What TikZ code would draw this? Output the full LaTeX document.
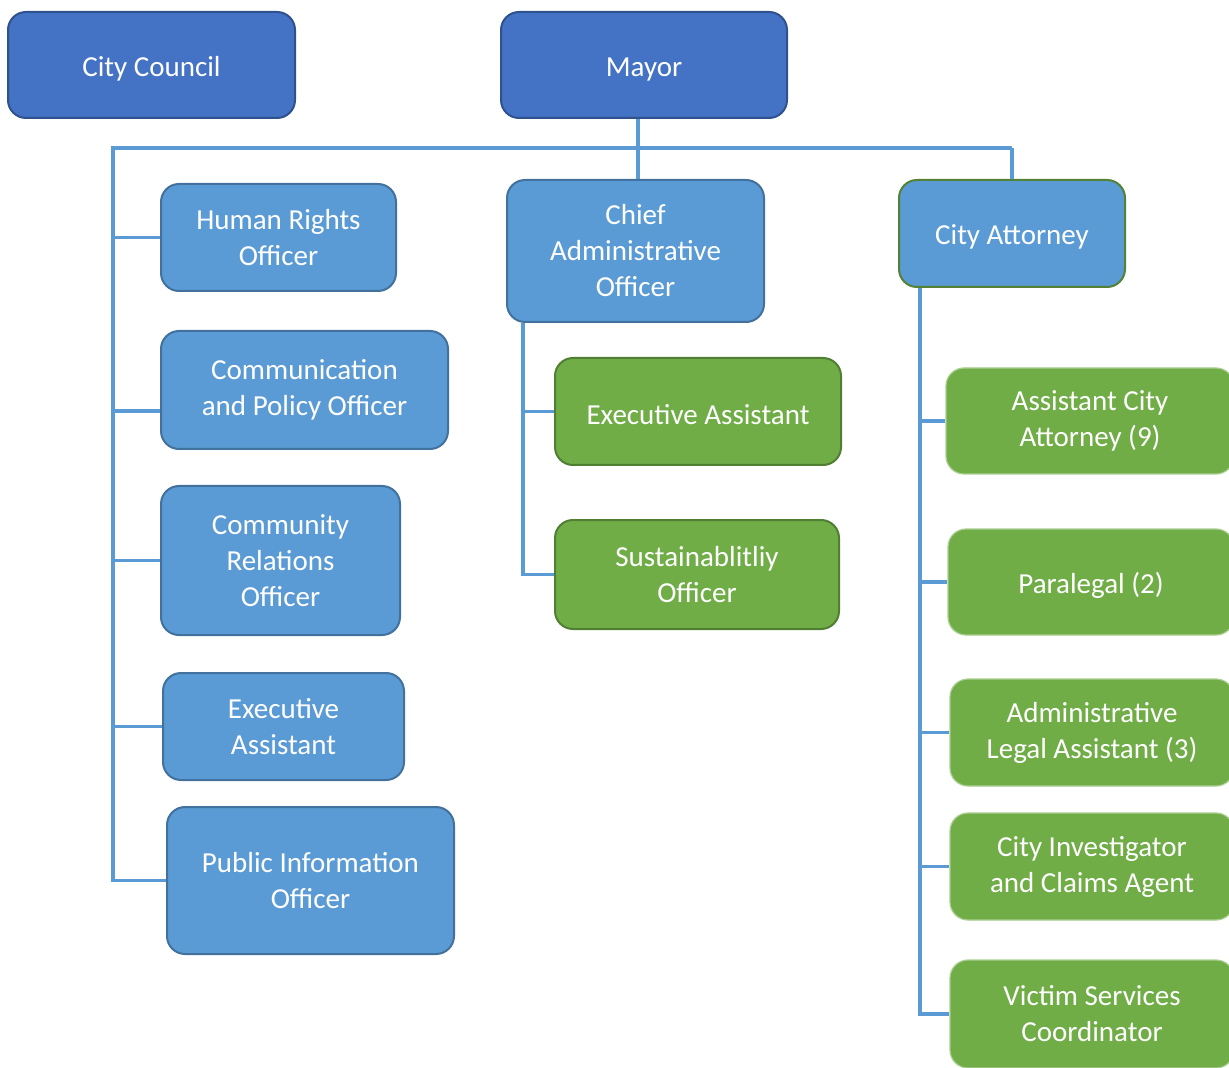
\documentclass[tikz,border=0pt]{standalone}
\usepackage{fontspec}
\setmainfont{Carlito}
\usetikzlibrary{calc}
\definecolor{dkblue}{HTML}{4472C4}
\definecolor{dkline}{HTML}{2F528F}
\definecolor{ltblue}{HTML}{5B9BD5}
\definecolor{ltline}{HTML}{41719C}
\definecolor{grn}{HTML}{70AD47}
\definecolor{grnline}{HTML}{507E32}
\definecolor{calline}{HTML}{548235}
\begin{document}
\begin{tikzpicture}[x=.5pt,y=-.5pt,font=\fontsize{14.5}{18}\selectfont,
  box/.style={rounded corners=9pt,align=center,text=white,line width=1pt,inner sep=2pt,
    execute at begin node={\rule{0pt}{13.5pt}}},
  top/.style={box,fill=dkblue,draw=dkline},
  staff/.style={box,fill=ltblue,draw=ltline},
  unit/.style={box,fill=grn,draw=grnline},
  legal/.style={box,fill=grn,draw=grn!60!white,line width=.6pt},
  link/.style={draw=ltblue,line width=1.7pt}]
\useasboundingbox (0,0) rectangle (1229,1068);
\clip (0,0) rectangle (1229,1068);

\node[top, minimum width=143.5pt, minimum height=53pt] (cc) at (151.5,65) {City Council};
\node[top, minimum width=143pt, minimum height=53pt] (mayor) at (644,65) {Mayor};

\node[staff, minimum width=117.5pt, minimum height=53.5pt] (hr) at (278.5,237.5) {Human Rights\\Officer};
\node[staff, minimum width=143.5pt, minimum height=59pt] (comm) at (304.5,390) {Communication\\and Policy Officer};
\node[staff, minimum width=119.5pt, minimum height=74.5pt] (rel) at (280.5,560.5) {Community\\Relations\\Officer};
\node[staff, minimum width=120.5pt, minimum height=53.5pt] (exl) at (283.5,726.5) {Executive\\Assistant};
\node[staff, minimum width=143.5pt, minimum height=73.5pt] (pio) at (310.5,880.5) {Public Information\\Officer};

\node[staff, minimum width=128.5pt, minimum height=71pt] (cao) at (635.5,251) {Chief\\Administrative\\Officer};
\node[unit, minimum width=143pt, minimum height=53.5pt] (exg) at (698,411.5) {Executive Assistant};
\node[unit, minimum width=142pt, minimum height=54.5pt] (sus) at (697,574.5) {Sustainablitliy\\Officer};

\node[staff, draw=calline, minimum width=113pt, minimum height=53.5pt] (ca) at (1012,233.5) {City Attorney};
\node[legal, minimum width=144pt, minimum height=53pt] (aca) at (1090,421) {Assistant City\\Attorney (9)};
\node[legal, minimum width=143pt, minimum height=53pt] (para) at (1091,582) {Paralegal (2)};
\node[legal, minimum width=142pt, minimum height=53.5pt] (ala) at (1092,732.5) {Administrative\\Legal Assistant (3)};
\node[legal, minimum width=142pt, minimum height=53.5pt] (cica) at (1092,866.5) {City Investigator\\and Claims Agent};
\node[legal, minimum width=142pt, minimum height=54pt] (vsc) at (1092,1014) {Victim Services\\Coordinator};

\coordinate (bus) at (113,148);
\coordinate (hub) at (638,148);
\coordinate (ce) at (1012,148);
\draw[link] (mayor.south -| hub) -- (cao.north -| hub);
\draw[link] (ce) -- (ca.north);
\draw[link] (ce) -- (bus) -- (bus |- pio.west) -- (pio.west);
\coordinate (cm) at ([yshift=-10.5pt]comm.west);
\draw[link] (bus |- cm) -- (cm);
\foreach \n in {hr,rel,exl} \draw[link] (bus |- \n.west) -- (\n.west);

\coordinate (cb) at ([xshift=8.5pt]cao.south west);
\draw[link] (cb) -- (cb |- sus.west) -- (sus.west);
\draw[link] (cb |- exg.west) -- (exg.west);

\coordinate (cs) at ([xshift=11pt]ca.south west);
\draw[link] (cs) -- (cs |- vsc.west) -- (vsc.west);
\foreach \n in {aca,para,ala,cica} \draw[link] (cs |- \n.west) -- (\n.west);

\end{tikzpicture}
\end{document}
